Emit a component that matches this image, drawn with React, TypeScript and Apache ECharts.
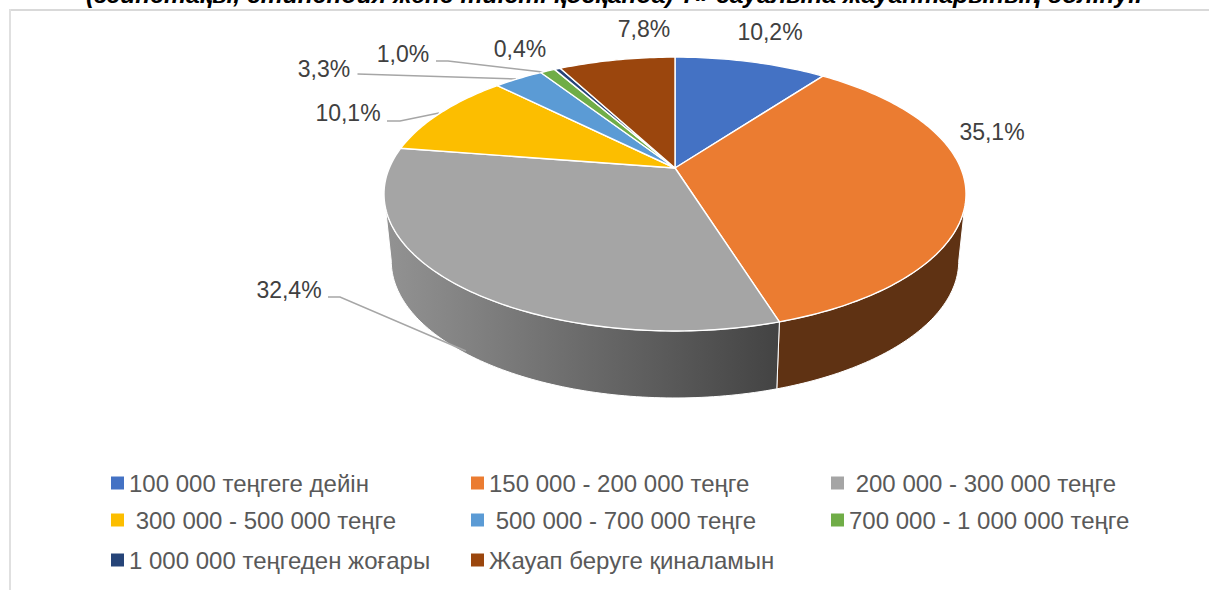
import React, { useEffect, useRef } from "react";
import * as echarts from "echarts";

const categories = [
  "100 000 теңгеге дейін",
  "150 000 - 200 000 теңге",
  " 200 000 - 300 000 теңге",
  " 300 000 - 500 000 теңге",
  " 500 000 - 700 000 теңге",
  "700 000 - 1 000 000 теңге",
  "1 000 000 теңгеден жоғары",
  "Жауап беруге қиналамын",
];
const values = [10.2, 35.1, 32.4, 10.1, 3.3, 1.0, 0.4, 7.8];
const colors = ["#4472c4", "#eb7c31", "#a5a5a5", "#fcbe00", "#5b9bd5", "#70ad47", "#264478", "#9b460d"];
const titleText = "(зейнетақы, стипендия және тиісті қосқанда) ?» сауалына жауаптарының бөлінуі.";

const labelPositions = [
  [770, 32], [992, 132], [289, 290], [348, 113], [324, 69], [403, 54], [520, 49], [644, 29],
];
const leaderLines: (number[][] | null)[] = [
  null,
  null,
  [[328, 297], [340, 297], [466, 351]],
  [[387, 121], [400, 121], [439, 113]],
  [[357.5, 74], [516, 79]],
  [[436, 61], [448, 61], [542.5, 72]],
  null,
  null,
];
const legendLeft = [111, 471, 831, 111, 471, 831, 111, 471];
const legendTop = [471, 471, 471, 508, 508, 508, 548, 548];

// perspective model of the pie disc
const CX = 675, CY = 168, PERSP = 0.19, GY = 132, FX = 285.7, DEPTH = 67, SHRINK = 0.975;
const WALL_FROM = 101, WALL_TO = 259;
const FONT = "'Liberation Sans', Arial, sans-serif";

const rim = (deg: number) => {
  const t = (deg * Math.PI) / 180;
  const w = 1 + PERSP * Math.cos(t);
  return [CX + (FX * Math.sin(t)) / w, CY - (GY * Math.cos(t)) / w];
};
const lower = (p: number[]) => [CX + (p[0] - CX) * SHRINK, p[1] + DEPTH];
const arc = (a: number, b: number) => {
  const out: number[][] = [];
  const n = Math.max(2, Math.ceil(Math.abs(b - a)));
  for (let i = 0; i <= n; i++) out.push(rim(a + ((b - a) * i) / n));
  return out;
};

const total = values.reduce((s, v) => s + v, 0);
const startOf = (i: number) => (values.slice(0, i).reduce((s, v) => s + v, 0) / total) * 360;

const wallFill = (i: number) =>
  i === 2
    ? new echarts.graphic.LinearGradient(0, 0, 1, 0, [
        { offset: 0, color: "#939393" },
        { offset: 1, color: "#434343" },
      ])
    : "#5f3213";

const renderSlice = (i: number) => (_params: any, api: any) => {
  const v = api.value(0);
  const a = startOf(i);
  const b = a + (v / total) * 360;
  const children: any[] = [];
  const wa = Math.max(a, WALL_FROM);
  const wb = Math.min(b, WALL_TO);
  if (wb > wa) {
    const top = arc(wa, wb);
    const bot = top.map(lower).reverse();
    children.push({
      type: "polygon",
      shape: { points: [...top, ...bot] },
      style: { fill: wallFill(i), stroke: "#fff", lineWidth: 1 },
    });
  }
  const line = leaderLines[i];
  if (line) {
    children.push({
      type: "polyline",
      shape: { points: line },
      style: { fill: "none", stroke: "#a6a6a6", lineWidth: 1.5 },
    });
  }
  children.push({
    type: "polygon",
    shape: { points: [[CX, CY], ...arc(a, b)] },
    style: { fill: colors[i], stroke: "#fff", lineWidth: 1.4, lineJoin: "round" },
  });
  const [lx, ly] = labelPositions[i];
  children.push({
    type: "text",
    style: {
      x: lx,
      y: ly,
      text: `${v.toFixed(1).replace(".", ",")}%`,
      fill: "#404040",
      font: `23px ${FONT}`,
      align: "center",
      verticalAlign: "middle",
    },
  });
  return { type: "group", children };
};

export default function App() {
  const ref = useRef<HTMLDivElement>(null);
  useEffect(() => {
    const chart = echarts.init(ref.current!, undefined, { renderer: "svg" });
    chart.setOption({
      animation: false,
      backgroundColor: "#fff",
      legend: categories.map((name, i) => ({
        left: legendLeft[i],
        top: legendTop[i],
        padding: 0,
        data: [name],
        icon: "rect",
        itemWidth: 13,
        itemHeight: 13,
        selectedMode: false,
        textStyle: { fontSize: 24, color: "#595959", fontFamily: FONT },
      })),
      graphic: [
        { type: "rect", shape: { x: 9, y: 9, width: 1200, height: 2 }, style: { fill: "#d9d9d9" } },
        { type: "rect", shape: { x: 9, y: 9, width: 2, height: 581 }, style: { fill: "#e0e0e0" } },
        {
          type: "text",
          style: {
            x: 614,
            y: 7,
            text: titleText,
            fill: "#000",
            font: `italic bold 24.7px ${FONT}`,
            align: "center",
            verticalAlign: "bottom",
          },
        },
      ],
      series: categories.map((name, i) => ({
        type: "custom",
        name,
        coordinateSystem: "none",
        itemStyle: { color: colors[i] },
        data: [[values[i]]],
        renderItem: renderSlice(i),
        silent: true,
      })),
    });
    return () => chart.dispose();
  }, []);
  return <div ref={ref} style={{ position: "absolute", left: 0, top: 0, width: 1209, height: 590 }} />;
}
